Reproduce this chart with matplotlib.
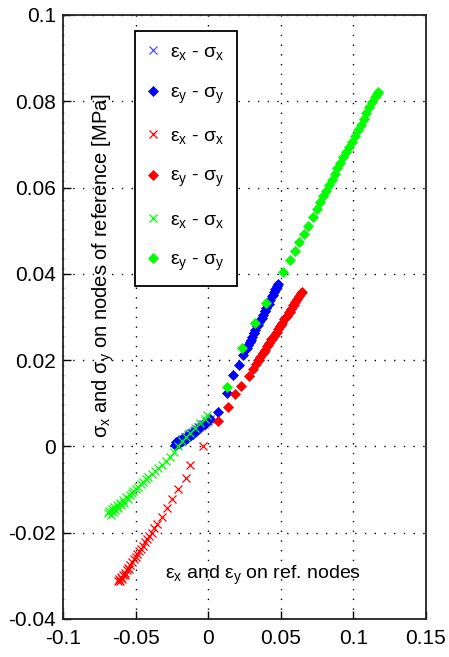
import matplotlib
matplotlib.use("Agg")
import matplotlib.pyplot as plt

plt.rcParams['font.family'] = ['Liberation Sans', 'DejaVu Sans']
plt.rcParams['mathtext.fontset'] = 'custom'
plt.rcParams['mathtext.rm'] = 'Liberation Sans'
plt.rcParams['mathtext.it'] = 'Liberation Sans'
plt.rcParams['mathtext.bf'] = 'Liberation Sans'

# ---- data ----
blue_x_ex = [-0.0215, -0.0202, -0.0190, -0.0182, -0.0170, -0.0161, -0.0150, -0.0141, -0.0130,
             -0.0121, -0.0110, -0.0099, -0.0091, -0.0080, -0.0069, -0.0061, -0.0050, -0.0041,
             -0.0030, -0.0016, 0.0000, 0.0014]
blue_x_sx = [0.0006, 0.0011, 0.0012, 0.0017, 0.0018, 0.0022, 0.0023, 0.0027, 0.0028,
             0.0032, 0.0033, 0.0035, 0.0039, 0.0040, 0.0044, 0.0045, 0.0047, 0.0051,
             0.0052, 0.0056, 0.0058, 0.0063]

blue_d_ey = [-0.0230, -0.0222, -0.0215, -0.0205, -0.0198, -0.0190, -0.0180, -0.0172, -0.0163,
             -0.0155, -0.0145, -0.0135, -0.0125, -0.0115, -0.0105, -0.0095, -0.0085, -0.0072,
             -0.0058, -0.0042, -0.0025, 0.0010, 0.0068, 0.0130, 0.0170, 0.0210, 0.0240,
             0.0262, 0.0270, 0.0275, 0.0288, 0.0295, 0.0300, 0.0312, 0.0318, 0.0325, 0.0338,
             0.0342, 0.0350, 0.0362, 0.0368, 0.0375, 0.0388, 0.0393, 0.0400, 0.0412, 0.0418,
             0.0425, 0.0438, 0.0443, 0.0450, 0.0462, 0.0466, 0.0472, 0.0478]
blue_d_sy = [0.0004, 0.0010, 0.0006, 0.0012, 0.0008, 0.0015, 0.0012, 0.0019, 0.0016,
             0.0022, 0.0020, 0.0026, 0.0024, 0.0030, 0.0029, 0.0034, 0.0036, 0.0040,
             0.0044, 0.0049, 0.0053, 0.0063, 0.0080, 0.0124, 0.0165, 0.0189, 0.0212,
             0.0225, 0.0228, 0.0236, 0.0243, 0.0246, 0.0253, 0.0262, 0.0263, 0.0270, 0.0280,
             0.0281, 0.0288, 0.0296, 0.0298, 0.0305, 0.0313, 0.0315, 0.0322, 0.0330, 0.0331,
             0.0340, 0.0349, 0.0350, 0.0357, 0.0364, 0.0366, 0.0372, 0.0376]

red_x_ex = [-0.0036, -0.0125, -0.0153, -0.0208, -0.0250, -0.0284, -0.0318, -0.0350, -0.0370,
            -0.0390, -0.0405, -0.0420, -0.0435, -0.0450, -0.0462, -0.0475, -0.0488, -0.0500,
            -0.0512, -0.0525, -0.0538, -0.0550, -0.0562, -0.0575, -0.0588, -0.0600, -0.0612,
            -0.0622, -0.0545, -0.0570, -0.0595, -0.0610]
red_x_sx = [0.0000, -0.0043, -0.0073, -0.0098, -0.0122, -0.0143, -0.0163, -0.0180, -0.0190,
            -0.0200, -0.0208, -0.0215, -0.0222, -0.0230, -0.0237, -0.0243, -0.0250, -0.0256,
            -0.0262, -0.0268, -0.0275, -0.0281, -0.0287, -0.0293, -0.0298, -0.0303, -0.0307,
            -0.0311, -0.0285, -0.0297, -0.0308, -0.0313]

red_d_ey = [0.0068, 0.0136, 0.0185, 0.0226, 0.0280, 0.0309, 0.0330, 0.0345, 0.0352, 0.0360,
            0.0375, 0.0382, 0.0390, 0.0405, 0.0412, 0.0420, 0.0435, 0.0442, 0.0450, 0.0465,
            0.0472, 0.0480, 0.0495, 0.0502, 0.0510, 0.0525, 0.0532, 0.0540, 0.0555, 0.0562,
            0.0570, 0.0585, 0.0592, 0.0600, 0.0615, 0.0628, 0.0640, 0.0646]
red_d_sy = [0.0059, 0.0091, 0.0122, 0.0140, 0.0163, 0.0180, 0.0192, 0.0200, 0.0201, 0.0208,
            0.0216, 0.0218, 0.0224, 0.0232, 0.0234, 0.0240, 0.0248, 0.0250, 0.0256, 0.0264,
            0.0266, 0.0272, 0.0280, 0.0282, 0.0287, 0.0295, 0.0297, 0.0303, 0.0311, 0.0312,
            0.0319, 0.0327, 0.0328, 0.0334, 0.0342, 0.0349, 0.0355, 0.0358]

green_x_ex = [-0.0690, -0.0680, -0.0672, -0.0665, -0.0655, -0.0648, -0.0640, -0.0630, -0.0620,
              -0.0610, -0.0600, -0.0590, -0.0578, -0.0565, -0.0553, -0.0540, -0.0528, -0.0515,
              -0.0500, -0.0483, -0.0465, -0.0448, -0.0430, -0.0412, -0.0390, -0.0368, -0.0346,
              -0.0320, -0.0290, -0.0263, -0.0235, -0.0208, -0.0180, -0.0150, -0.0125, -0.0090,
              -0.0056, -0.0025, -0.0008]
green_x_sx = [-0.0155, -0.0150, -0.0158, -0.0145, -0.0152, -0.0140, -0.0147, -0.0136, -0.0142,
              -0.0130, -0.0136, -0.0125, -0.0130, -0.0118, -0.0122, -0.0112, -0.0108, -0.0104,
              -0.0099, -0.0094, -0.0088, -0.0082, -0.0076, -0.0071, -0.0064, -0.0057, -0.0050,
              -0.0042, -0.0033, -0.0025, -0.0013, 0.0000, 0.0012, 0.0023, 0.0031, 0.0043,
              0.0054, 0.0064, 0.0073]

green_d_ey = [0.0129, 0.0233, 0.0322, 0.0398, 0.0515, 0.0560, 0.0595, 0.0628, 0.0660, 0.0690,
              0.0720, 0.0748, 0.0770, 0.0790, 0.0810, 0.0830, 0.0850, 0.0870, 0.0890, 0.0910,
              0.0930, 0.0950, 0.0970, 0.0990, 0.1010, 0.1030, 0.1050, 0.1070, 0.1090, 0.1110,
              0.1130, 0.1150, 0.1165, 0.1172]
green_d_sy = [0.0138, 0.0228, 0.0286, 0.0333, 0.0404, 0.0432, 0.0453, 0.0474, 0.0493, 0.0512,
              0.0532, 0.0551, 0.0566, 0.0580, 0.0592, 0.0605, 0.0618, 0.0631, 0.0645, 0.0658,
              0.0670, 0.0682, 0.0694, 0.0706, 0.0719, 0.0733, 0.0746, 0.0760, 0.0773, 0.0786,
              0.0798, 0.0810, 0.0818, 0.0822]

x_ticks = [-0.1, -0.05, 0, 0.05, 0.1, 0.15]
x_tick_labels = ['-0.1', '-0.05', '0', '0.05', '0.1', '0.15']
y_ticks = [-0.04, -0.02, 0, 0.02, 0.04, 0.06, 0.08, 0.1]
y_tick_labels = ['-0.04', '-0.02', '0', '0.02', '0.04', '0.06', '0.08', '0.1']

legend_labels = [r'$\varepsilon_x$ - $\sigma_x$', r'$\varepsilon_y$ - $\sigma_y$',
                 r'$\varepsilon_x$ - $\sigma_x$', r'$\varepsilon_y$ - $\sigma_y$',
                 r'$\varepsilon_x$ - $\sigma_x$', r'$\varepsilon_y$ - $\sigma_y$']

# ---- figure ----
W, H = 449, 657
fig = plt.figure(figsize=(W / 100, H / 100), dpi=100)
ax = fig.add_axes([63 / W, 1 - 619 / H, (426 - 63) / W, (619 - 15) / H])

xkw = dict(marker='x', linestyle='none', markersize=6, markeredgewidth=0.9)
dkw = dict(marker='D', linestyle='none', markersize=5.3, markeredgewidth=0.5)

h1, = ax.plot(blue_x_ex, blue_x_sx, color=(0.3, 0.3, 1.0), **xkw)
h2, = ax.plot(blue_d_ey, blue_d_sy, color=(0, 0, 1), **dkw)
h3, = ax.plot(red_x_ex, red_x_sx, color=(1, 0, 0), **xkw)
h4, = ax.plot(red_d_ey, red_d_sy, color=(1, 0, 0), **dkw)
h5, = ax.plot(green_x_ex, green_x_sx, color=(0, 1, 0), **xkw)
h6, = ax.plot(green_d_ey, green_d_sy, color=(0, 1, 0), **dkw)

ax.set_xlim(-0.1, 0.15)
ax.set_ylim(-0.04, 0.1)
ax.set_xticks(x_ticks)
ax.set_xticklabels(x_tick_labels)
ax.set_yticks(y_ticks)
ax.set_yticklabels(y_tick_labels)
ax.tick_params(direction='in', length=6, width=1, labelsize=15,
               top=False, right=False)
ax.tick_params(axis='x', pad=7)
ax.tick_params(axis='y', pad=5)
for s in ax.spines.values():
    s.set_linewidth(1.3)
    s.set_color('#222222')

ax.grid(True, color='black', linestyle=(0, (1, 6)), linewidth=1.0)
ax.set_axisbelow(True)

leg = ax.legend([h1, h2, h3, h4, h5, h6], legend_labels,
                loc='upper left', bbox_to_anchor=((135 - 63) / 363, 1 - (31 - 15) / 604),
                fontsize=14, frameon=True, fancybox=False, framealpha=1,
                edgecolor='black', borderaxespad=0, handlelength=0.5,
                handletextpad=0.65, labelspacing=1.12, borderpad=0.65, markerscale=1.0)
leg.get_frame().set_linewidth(1.3)

ax.text(0.112, 1 - (266 - 15) / 604, r'$\sigma_x$ and $\sigma_y$ on nodes of reference [MPa]',
        transform=ax.transAxes, rotation=90, ha='center', va='center', fontsize=14.5)
ax.text((165 - 63) / 363, 1 - (575 - 15) / 604, r'$\varepsilon_x$ and $\varepsilon_y$ on ref. nodes',
        transform=ax.transAxes, ha='left', va='center', fontsize=14)

fig.savefig('out.png', dpi=100)
